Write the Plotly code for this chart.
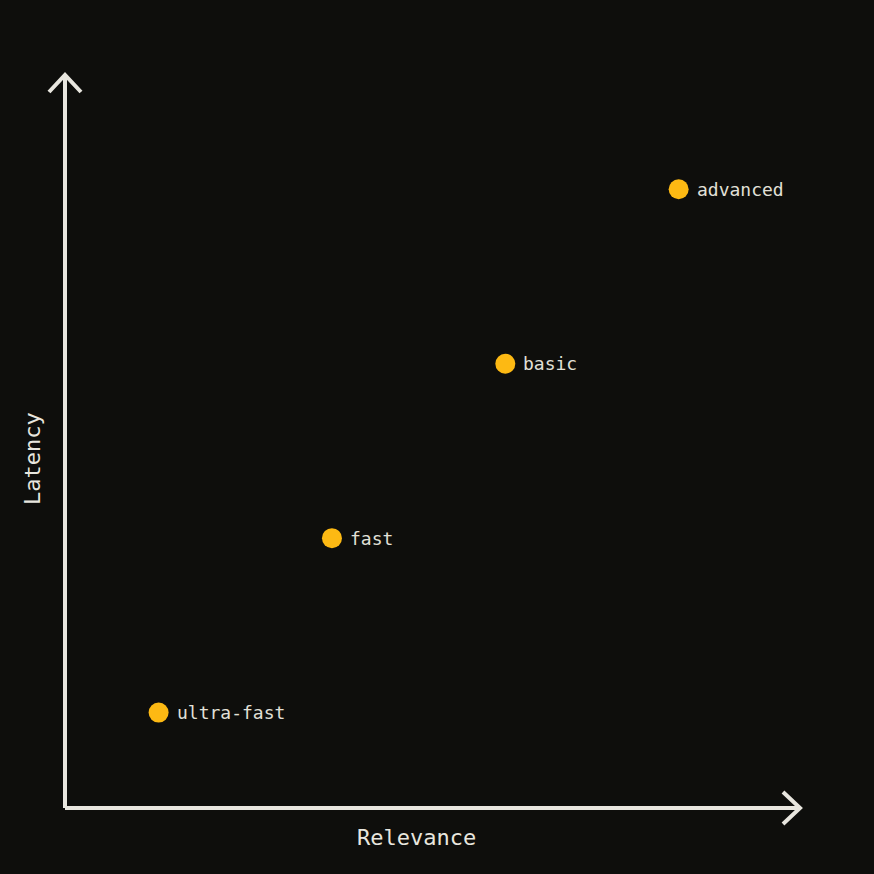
import plotly.graph_objects as go

names = ["ultra-fast", "fast", "basic", "advanced"]
relevance = [1, 2, 3, 4]
latency = [1, 2, 3, 4]

BG = "#0e0e0c"
FG = "#e8e6df"
LBL = "#e2e0d8"
DOT = "#fdb913"
FONT = "DejaVu Sans Mono"

fig = go.Figure()
fig.add_trace(go.Scatter(
    x=relevance, y=latency, mode="markers",
    marker=dict(size=20, color=DOT, line=dict(width=0)),
    hoverinfo="skip", cliponaxis=False,
))

W, H = 874, 874
l, r, t, b = 65, 74, 75, 66
pw, ph = W - l - r, H - t - b
ax = 17 / pw
ay = 17 / ph
bx = 16 / pw
by = 16 / ph
line = dict(color=FG, width=4)
shapes = [
    dict(type="line", xref="paper", yref="paper", x0=0, y0=0, x1=1, y1=0, line=line),
    dict(type="line", xref="paper", yref="paper", x0=0, y0=0, x1=0, y1=1, line=line),
    dict(type="path", xref="paper", yref="paper",
         path=f"M {-bx},{1-ay} L 0,1 L {bx},{1-ay}", line=line),
    dict(type="path", xref="paper", yref="paper",
         path=f"M {1-ax},{by} L 1,0 L {1-ax},{-by}", line=line),
]

annotations = [
    dict(text=n, x=xv, y=yv, xref="x", yref="y", showarrow=False,
         xanchor="left", yanchor="middle", xshift=16, yshift=0,
         font=dict(family=FONT, size=18, color=LBL))
    for n, xv, yv in zip(names, relevance, latency)
]
annotations += [
    dict(text="Relevance", xref="paper", yref="paper",
         x=(416 - l) / pw, y=-(837 - (H - b)) / ph, showarrow=False,
         xanchor="center", yanchor="middle",
         font=dict(family=FONT, size=22, color=FG)),
    dict(text="Latency", xref="paper", yref="paper",
         x=-(l - 32) / pw, y=(H - b - 459) / ph, showarrow=False,
         textangle=-90, xanchor="center", yanchor="middle",
         font=dict(family=FONT, size=22, color=FG)),
]

fig.update_layout(
    width=W, height=H,
    paper_bgcolor=BG, plot_bgcolor=BG,
    margin=dict(l=l, r=r, t=t, b=b),
    showlegend=False,
    xaxis=dict(range=[0.46, 4.70], visible=False, fixedrange=True),
    yaxis=dict(range=[0.453, 4.655], visible=False, fixedrange=True),
    shapes=shapes,
    annotations=annotations,
)

fig.write_html("out.html")
